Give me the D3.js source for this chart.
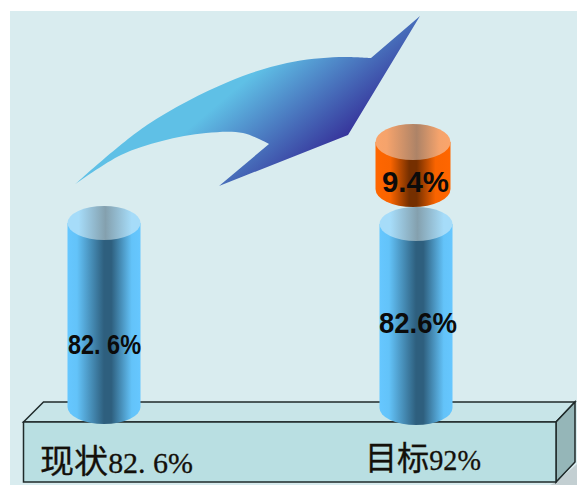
<!DOCTYPE html>
<html>
<head>
<meta charset="utf-8">
<script src="https://cdn.jsdelivr.net/npm/d3@7"></script>
<style>
html, body { margin: 0; padding: 0; background: #fff; }
svg { display: block; }
</style>
</head>
<body>
<div id="chart"></div>
<script>
var categories = ["现状", "目标"];
var baseValues = [82.6, 82.6];
var baseLabels = ["82. 6%", "82.6%"];
var gapValues = [9.4];
var gapLabels = ["9.4%"];
var footValues = ["82. 6%", "92%"];

var width = 577, height = 485;

var svg = d3.select("#chart").append("svg")
    .attr("width", width)
    .attr("height", height);

var defs = svg.append("defs");

// horizontal shading for the cylinders
function shade(id, stops) {
    var g = defs.append("linearGradient").attr("id", id)
        .attr("x1", 0).attr("x2", 1).attr("y1", 0).attr("y2", 0);
    stops.forEach(s => g.append("stop").attr("offset", s[0]).attr("stop-color", s[1]));
}
shade("blueSide", [[0, "#66c7ff"], [0.13, "#63c3f9"], [0.5, "#2e5f7e"], [0.6, "#2e5f7e"], [0.88, "#63c3f9"], [1, "#66c7ff"]]);
shade("blueTop", [[0, "#a6dcf9"], [0.15, "#a6dcf9"], [0.52, "#84a0ae"], [0.88, "#a6dcf9"], [1, "#a6dcf9"]]);
shade("orangeSide", [[0, "#ff6600"], [0.2, "#f96400"], [0.45, "#752f00"], [0.55, "#752f00"], [0.8, "#f96400"], [1, "#ff6600"]]);
shade("orangeTop", [[0, "#faa56b"], [0.15, "#f5a36c"], [0.55, "#ad8367"], [0.85, "#f5a36c"], [1, "#faa56b"]]);

var arrowFill = defs.append("linearGradient").attr("id", "arrowFill")
    .attr("gradientUnits", "userSpaceOnUse")
    .attr("x1", 142).attr("y1", 168).attr("x2", 213).attr("y2", 252);
arrowFill.append("stop").attr("offset", 0).attr("stop-color", "#5fc0e6");
arrowFill.append("stop").attr("offset", 1).attr("stop-color", "#36329a");

// background panel
svg.append("rect")
    .attr("x", 10).attr("y", 11)
    .attr("width", width - 10).attr("height", height - 11)
    .attr("fill", "#d9ecef");

// arrow
var line = d3.line().curve(d3.curveCatmullRom.alpha(0.5));
var upperEdge = [[75.5, 184], [147, 125], [228, 82], [287, 63], [339, 57], [371, 58]];
var lowerEdge = [[269, 144], [243, 133], [206, 133], [162, 141], [121, 155], [75.5, 184]];
svg.append("path")
    .attr("d", line(upperEdge) + "L420,16L348,135L219,186L" + line(lowerEdge).slice(1) + "Z")
    .attr("fill", "url(#arrowFill)");

// platform
var platformStroke = "#1f2a2a";
svg.append("path")
    .attr("d", "M556,482L577,464L577,485L550,485Z")
    .attr("fill", "#c3cfd2");
svg.append("path")
    .attr("d", "M23.5,422L43.5,402L575,402L556,422Z")
    .attr("fill", "#c8e5e8").attr("stroke", platformStroke).attr("stroke-width", 1.5);
svg.append("path")
    .attr("d", "M556,422L575,402L575,462L556,482Z")
    .attr("fill", "#95b6b8").attr("stroke", platformStroke).attr("stroke-width", 1.5);
svg.append("rect")
    .attr("x", 23.5).attr("y", 422).attr("width", 532.5).attr("height", 60)
    .attr("fill", "#b9dfe2").attr("stroke", platformStroke).attr("stroke-width", 1.5);

// the drawing is not to scale: the small segment gets more height
var x = d3.scalePoint().domain(categories).range([104, 416]);
var h = d3.scaleLinear().domain([0, 9.4, 82.6]).range([0, 47, 184]);

function cylinder(cx, bottom, barHeight, rx, ry, side, top) {
    var g = svg.append("g");
    var topY = bottom - barHeight;
    g.append("path")
        .attr("d", `M${cx - rx},${topY}L${cx - rx},${bottom}A${rx},${ry} 0 0 0 ${cx + rx},${bottom}L${cx + rx},${topY}Z`)
        .attr("fill", `url(#${side})`);
    g.append("ellipse")
        .attr("cx", cx).attr("cy", topY)
        .attr("rx", rx).attr("ry", ry)
        .attr("fill", `url(#${top})`);
}

categories.forEach((c, i) => {
    cylinder(x(c), 407 + i, h(baseValues[i]), 36.5, 17, "blueSide", "blueTop");
});

// 目标 gets the extra piece floating above it
var extraBottom = 189;
cylinder(x(categories[1]) - 3, extraBottom, h(gapValues[0]), 37.5, 18, "orangeSide", "orangeTop");

var sans = "'Liberation Sans', 'Noto Sans CJK SC', sans-serif";
var serif = "'Liberation Serif', 'Noto Sans CJK SC', serif";

function label(txt, xPos, yPos, len, size) {
    svg.append("text")
        .attr("x", xPos).attr("y", yPos)
        .attr("textLength", len)
        .attr("lengthAdjust", "spacingAndGlyphs")
        .attr("font-family", sans)
        .attr("font-size", size)
        .attr("font-weight", "bold")
        .attr("fill", "#0b0b0b")
        .text(txt);
}

label(baseLabels[0], 68, 354, 73, 28);
label(baseLabels[1], 379, 333, 78, 30);
label(gapLabels[0], 382, 192, 67, 29);

// labels on the platform front: category name, then the number
function footLabel(name, value, xPos, yPos, len) {
    var t = svg.append("text")
        .attr("x", xPos).attr("y", yPos)
        .attr("textLength", len)
        .attr("lengthAdjust", "spacingAndGlyphs")
        .attr("font-family", serif)
        .attr("fill", "#14100a")
        .attr("stroke", "#14100a")
        .attr("stroke-width", 0.3);
    t.append("tspan").attr("font-size", 33).text(name);
    t.append("tspan").attr("font-size", 29).text(value);
}

footLabel(categories[0], footValues[0], 40, 473, 153);
footLabel(categories[1], footValues[1], 365, 470, 116);
</script>
</body>
</html>
